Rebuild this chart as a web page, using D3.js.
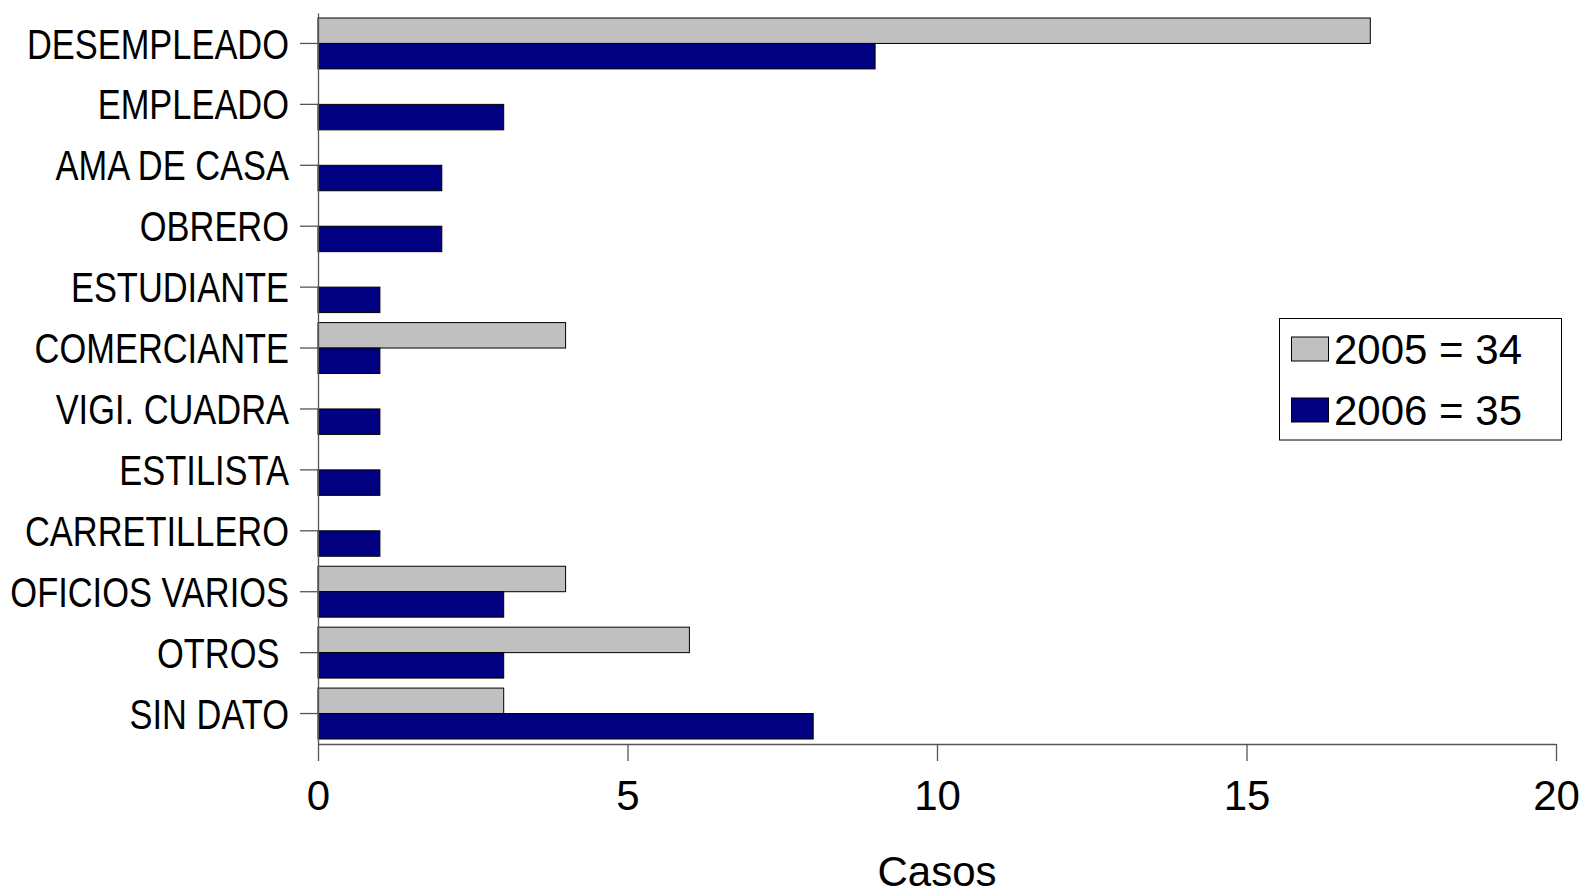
<!DOCTYPE html>
<html>
<head>
<meta charset="utf-8">
<script src="https://cdn.jsdelivr.net/npm/d3@7"></script>
<style>
  html, body { margin: 0; padding: 0; background: #fff; }
  svg { display: block; font-family: "Liberation Sans", Arial, Helvetica, sans-serif; }
</style>
</head>
<body>
<svg id="chart" width="1585" height="891"></svg>
<script>
const categories = ["DESEMPLEADO", "EMPLEADO", "AMA DE CASA", "OBRERO", "ESTUDIANTE", "COMERCIANTE",
  "VIGI. CUADRA", "ESTILISTA", "CARRETILLERO", "OFICIOS VARIOS", "OTROS ", "SIN DATO"];
const values2005 = [17, 0, 0, 0, 0, 4, 0, 0, 0, 4, 6, 3];
const values2006 = [9, 3, 2, 2, 1, 1, 1, 1, 1, 3, 3, 8];
const seriesNames = ["2005 = 34", "2006 = 35"];
const seriesColors = ["#C0C0C0", "#000080"];
const xTicks = [0, 5, 10, 15, 20];
const xTitle = "Casos";

const svg = d3.select("#chart");
const plotLeft = 318, plotRight = 1556, plotTop = 13, plotBottom = 744;

const x = d3.scaleLinear().domain([0, 20]).range([plotLeft, plotRight]);
const y = d3.scaleBand().domain(categories).range([plotTop, plotBottom]).paddingInner(0.164).paddingOuter(0.082);
const ySub = d3.scaleBand().domain([0, 1]).range([0, y.bandwidth()]);

const data = categories.map((c, i) => ({ cat: c, vals: [values2005[i], values2006[i]] }));

// bars
const g = svg.append("g");
data.forEach(d => {
  d.vals.forEach((v, s) => {
    if (v <= 0) return;
    g.append("rect")
      .attr("x", x(0))
      .attr("y", y(d.cat) + ySub(s))
      .attr("width", x(v) - x(0))
      .attr("height", ySub.bandwidth())
      .attr("fill", seriesColors[s])
      .attr("stroke", "#000")
      .attr("stroke-width", 1);
  });
});

// x axis
const xAxis = svg.append("g")
  .attr("transform", `translate(0,${plotBottom})`)
  .call(d3.axisBottom(x).tickValues(xTicks).tickSize(17).tickSizeOuter(0).tickPadding(19));
xAxis.select(".domain").attr("stroke", "#555").attr("stroke-width", 1.3);
xAxis.selectAll(".tick line").attr("stroke", "#555").attr("stroke-width", 1.3);
xAxis.selectAll(".tick text").attr("font-size", 42).attr("fill", "#000")
  .style("font-family", "'Liberation Sans', Arial, sans-serif");

// y axis
const yAxis = svg.append("g")
  .attr("transform", `translate(${plotLeft},0)`)
  .call(d3.axisLeft(y).tickSize(18).tickSizeOuter(0).tickFormat(""));
yAxis.select(".domain").attr("stroke", "#555").attr("stroke-width", 1.3);
yAxis.selectAll(".tick line").attr("stroke", "#555").attr("stroke-width", 1.3);

// category labels (condensed)
svg.append("g").selectAll("text")
  .data(categories)
  .join("text")
  .attr("transform", d => `translate(289,${y(d) + y.bandwidth() / 2}) scale(0.82,1)`)
  .attr("text-anchor", "end")
  .attr("dy", "0.36em")
  .attr("font-size", 42)
  .attr("fill", "#000")
  .style("white-space", "pre")
  .text(d => d);

// x title
svg.append("text")
  .attr("x", x(10))
  .attr("y", 886)
  .attr("text-anchor", "middle")
  .attr("font-size", 42)
  .attr("fill", "#000")
  .text(xTitle);

// legend
const lg = svg.append("g");
lg.append("rect").attr("x", 1279.5).attr("y", 318.5).attr("width", 282).attr("height", 121.5)
  .attr("fill", "#fff").attr("stroke", "#000").attr("stroke-width", 1);
seriesNames.forEach((n, i) => {
  const yy = 337 + i * 61;
  lg.append("rect").attr("x", 1291.5).attr("y", yy).attr("width", 37).attr("height", 24)
    .attr("fill", seriesColors[i]).attr("stroke", "#000").attr("stroke-width", 1);
  lg.append("text").attr("x", 1334).attr("y", yy + 26.5)
    .attr("font-size", 42).attr("fill", "#000").text(n);
});
</script>
</body>
</html>
